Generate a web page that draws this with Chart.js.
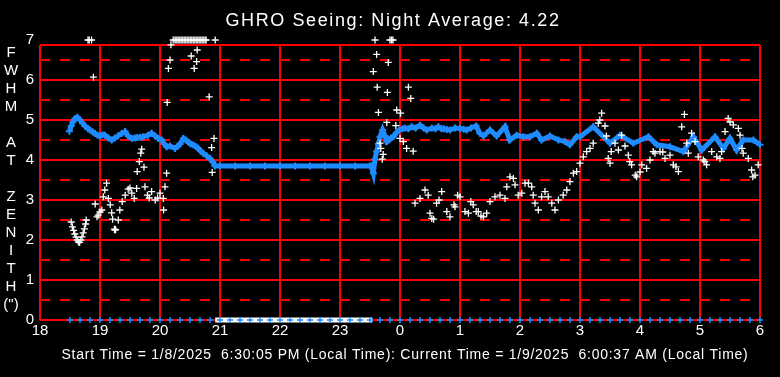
<!DOCTYPE html>
<html>
<head>
<meta charset="utf-8">
<title>GHRO Seeing</title>
<script src="https://cdn.jsdelivr.net/npm/chart.js@4/dist/chart.umd.min.js"></script>
<style>
  html, body { margin: 0; padding: 0; background: #000; }
  canvas { display: block; }
</style>
</head>
<body>
<canvas id="seeing" width="780" height="377"></canvas>
<script>
// Hours after 18:00 local time (0 = 18:00, 12 = 06:00)
const xTickValues = [0, 1, 2, 3, 4, 5, 6, 7, 8, 9, 10, 11, 12];
const yTickValues = [0, 0.5, 1, 1.5, 2, 2.5, 3, 3.5, 4, 4.5, 5, 5.5, 6, 6.5, 6.875, 7];

// individual seeing measurements (white)
const seeingHours = [
  0.52, 0.54, 0.56, 0.58, 0.60, 0.62, 0.64, 0.66, 0.68, 0.70, 0.72, 0.74, 0.76, 0.77,
  0.80, 0.82, 0.86, 0.89, 0.92, 0.95, 0.97, 1.00, 1.03, 1.055, 1.08, 1.11, 1.14, 1.17,
  1.195, 1.21, 1.24, 1.25, 1.26, 1.305, 1.33, 1.37, 1.42, 1.47, 1.50, 1.53, 1.57, 1.61,
  1.62, 1.655, 1.68, 1.695, 1.733, 1.75, 1.79, 1.82, 1.86, 1.92, 1.96, 2.00, 2.055, 2.06,
  2.083, 2.11, 2.12, 2.14, 2.167, 2.183, 2.22, 2.25, 2.27, 2.30, 2.32, 2.35, 2.37, 2.40,
  2.42, 2.45, 2.47, 2.50, 2.52, 2.55, 2.57, 2.60, 2.62, 2.65, 2.67, 2.70, 2.72, 2.75, 2.77,
  2.52, 2.57, 2.61, 2.62, 2.82, 2.86, 2.87, 2.90, 2.92,
  5.555, 5.583, 5.61, 5.62, 5.64, 5.667, 5.68, 5.705, 5.72, 5.78, 5.79, 5.805, 5.833, 5.86,
  5.883, 5.93, 5.945, 6.00, 6.01, 6.055, 6.11, 6.14, 6.18, 6.22,
  6.25, 6.333, 6.417, 6.47, 6.50, 6.53, 6.56, 6.61, 6.65, 6.695, 6.78, 6.833, 6.90, 6.917,
  6.96, 7.00, 7.083, 7.14, 7.18, 7.22, 7.27, 7.305, 7.35, 7.39, 7.445, 7.50, 7.583, 7.667,
  7.75, 7.78, 7.833, 7.89, 7.917, 7.97, 8.03, 8.083, 8.14, 8.195, 8.22, 8.25, 8.305, 8.36,
  8.417, 8.47, 8.53, 8.583, 8.64, 8.72, 8.78, 8.833, 8.89, 8.945, 9.00, 9.055, 9.11, 9.167,
  9.22, 9.305, 9.33, 9.36, 9.417, 9.44, 9.47, 9.50, 9.52, 9.583, 9.64, 9.695, 9.75, 9.805,
  9.83, 9.86, 9.92, 9.945, 10.00, 10.03, 10.11, 10.167, 10.22, 10.25, 10.333, 10.38, 10.417, 10.50,
  10.555, 10.60, 10.64, 10.695, 10.74, 10.78, 10.805, 10.86, 10.917, 10.97, 11.055, 11.08, 11.11, 11.195,
  11.28, 11.333, 11.36, 11.417, 11.47, 11.50, 11.555, 11.64, 11.667, 11.70, 11.72, 11.805, 11.86, 11.88,
  11.917, 11.97
];
const seeingValues = [
  2.45, 2.33, 2.24, 2.15, 2.07, 2.00, 1.95, 1.94, 2.00, 2.08, 2.18, 2.28, 2.40, 2.50,
  7, 7, 7, 6.07, 2.90, 2.58, 2.62, 2.70, 2.75, 3.08, 3.25, 3.42, 3.04, 2.88,
  2.68, 2.52, 2.27, 2.25, 2.26, 2.50, 2.75, 2.96, 3.12, 3.27, 3.30, 3.17, 3.04, 3.29,
  3.71, 3.96, 4.17, 4.27, 3.82, 3.33, 3.12, 3.05, 3.21, 3.00, 3.05, 3.17, 3.04, 2.75,
  3.33, 3.67, 5.44, 6.29, 6.50, 6.88, 7, 7, 7, 7, 7, 7, 7, 7,
  7, 7, 7, 7, 7, 7, 7, 7, 7, 7, 7, 7, 7, 7, 7,
  6.60, 6.29, 6.46, 6.75, 5.58, 4.31, 3.69, 4.54, 7,
  6.21, 7, 6.64, 5.82, 5.19, 4.42, 4.29, 4.02, 4.14, 4.94, 5.69, 6.44, 7, 7,
  7, 4.86, 5.25, 4.54, 5.17, 4.46, 4.29, 5.82, 5.54, 4.22,
  2.92, 3.04, 3.25, 3.12, 2.67, 2.54, 2.52, 2.92, 3.00, 3.21, 2.71, 2.58, 2.88, 2.83,
  3.12, 3.08, 2.71, 2.67, 2.96, 2.88, 2.71, 2.71, 2.60, 2.58, 2.67, 2.96, 3.08, 3.12,
  3.04, 3.33, 3.58, 3.54, 3.38, 3.12, 3.17, 3.42, 3.42, 3.33, 3.12, 2.92, 2.75, 3.08,
  3.21, 3.08, 2.92, 2.75, 3.00, 3.12, 3.25, 3.46, 3.67, 3.71, 3.92, 4.08, 4.21, 4.29,
  4.42, 4.92, 5.00, 5.17, 4.85, 4.60, 4.04, 3.92, 4.21, 4.42, 4.25, 4.62, 4.35, 4.12,
  3.96, 3.88, 3.62, 3.58, 3.70, 3.88, 3.79, 4.00, 4.21, 4.17, 4.21, 4.20, 4.04, 4.12,
  3.88, 3.83, 3.71, 4.83, 5.14, 4.42, 4.17, 4.67, 4.46, 4.08, 4.00, 3.96, 3.88, 4.21,
  4.08, 4.04, 4.21, 4.71, 5.04, 4.95, 4.88, 4.79, 4.62, 4.29, 4.17, 4.04, 3.75, 3.58,
  3.62, 3.88
];

// running average (blue)
const averageHours = [
  0.49, 0.52, 0.55, 0.58, 0.62, 0.667, 0.71, 0.75, 0.80, 0.833, 0.88, 0.917, 0.96, 1.00,
  1.04, 1.083, 1.14, 1.195, 1.25, 1.30, 1.36, 1.417, 1.47, 1.53, 1.58, 1.62, 1.67, 1.72,
  1.80, 1.86, 1.92, 1.97, 2.03, 2.07, 2.11, 2.167, 2.25, 2.30, 2.333, 2.39, 2.43, 2.47,
  2.51, 2.555, 2.60, 2.63, 2.68, 2.72, 2.78, 2.833, 2.88, 2.917, 3.00, 3.25, 3.50, 3.75,
  4.00, 4.25, 4.50, 4.75, 5.00, 5.25, 5.50, 5.52, 5.555, 5.583, 5.61, 5.64, 5.667, 5.71,
  5.75, 5.78, 5.817, 5.85, 5.89, 5.94, 5.99, 6.04, 6.083, 6.14, 6.195, 6.26, 6.333, 6.39,
  6.445, 6.53, 6.59, 6.64, 6.69, 6.73, 6.78, 6.833, 6.917, 7.00, 7.06, 7.11, 7.183, 7.267,
  7.33, 7.39, 7.50, 7.61, 7.75, 7.83, 7.945, 8.055, 8.167, 8.28, 8.36, 8.50, 8.64, 8.75,
  8.83, 8.945, 9.00, 9.22, 9.50, 9.667, 9.89, 10.14, 10.28, 10.50, 10.72, 10.89, 11.03, 11.25,
  11.39, 11.50, 11.61, 11.72, 11.89, 12.00
];
const averageValues = [
  4.72, 4.85, 4.95, 5.03, 5.07, 5.00, 4.92, 4.85, 4.78, 4.75, 4.70, 4.66, 4.62, 4.60,
  4.63, 4.62, 4.55, 4.50, 4.55, 4.60, 4.66, 4.71, 4.60, 4.54, 4.55, 4.56, 4.57, 4.58,
  4.62, 4.67, 4.60, 4.54, 4.50, 4.40, 4.33, 4.35, 4.29, 4.35, 4.40, 4.54, 4.50, 4.45,
  4.40, 4.38, 4.33, 4.30, 4.22, 4.17, 4.10, 4.04, 3.95, 3.85, 3.85, 3.85, 3.85, 3.85,
  3.85, 3.85, 3.85, 3.85, 3.85, 3.85, 3.85, 3.85, 3.67, 4.02, 4.21, 4.40, 4.58, 4.75,
  4.60, 4.46, 4.50, 4.55, 4.58, 4.68, 4.75, 4.78, 4.80, 4.78, 4.83, 4.80, 4.87, 4.80,
  4.75, 4.80, 4.78, 4.83, 4.78, 4.78, 4.76, 4.75, 4.80, 4.79, 4.77, 4.75, 4.80, 4.85,
  4.67, 4.60, 4.75, 4.60, 4.83, 4.50, 4.62, 4.58, 4.58, 4.67, 4.50, 4.60, 4.50, 4.46,
  4.38, 4.58, 4.58, 4.83, 4.42, 4.62, 4.42, 4.58, 4.38, 4.33, 4.21, 4.58, 4.25, 4.58,
  4.29, 4.54, 4.25, 4.50, 4.50, 4.38
];

// sample markers along the bottom (every 10 minutes from 18:30 to 06:00)
const sampleStart = 0.5;
const sampleEnd = 12;
const sampleStep = 1 / 6;
// period with no seeing data (white band on the axis)
const gapHours = [2.92, 5.54];
const gapValues = [0, 0];

const sampleHours = [];
for (let h = sampleStart; h <= sampleEnd + 1e-6; h += sampleStep) sampleHours.push(h);

const FONT = '"Liberation Sans", Arial, sans-serif';
const RED = '#ff0000';
const BLUE = '#1e8cff';

const yLetters = ['F', 'W', 'H', 'M', '', 'A', 'T', '', 'Z', 'E', 'N', 'I', 'T', 'H', '(")'];

const textPlugin = {
    id: 'texts',
    beforeDraw(chart) {
        const c = chart.ctx;
        c.save();
        c.fillStyle = '#000';
        c.fillRect(0, 0, chart.width, chart.height);
        c.restore();
    },
    afterDraw(chart) {
        const c = chart.ctx;
        c.save();
        c.fillStyle = '#fff';
        c.textAlign = 'center';
        c.textBaseline = 'middle';

        // title
        c.font = '18px ' + FONT;
        c.letterSpacing = '1.6px';
        c.fillText('GHRO Seeing: Night Average: 4.22', 393, 21);

        // footer
        c.font = '14px ' + FONT;
        c.letterSpacing = '0.75px';
        c.fillText('Start Time = 1/8/2025  6:30:05 PM (Local Time): Current Time = 1/9/2025  6:00:37 AM (Local Time)', 405, 355);

        // vertical axis label, one letter per line
        c.font = '15px ' + FONT;
        c.letterSpacing = '0px';
        yLetters.forEach((ch, i) => {
            if (ch) c.fillText(ch, 11, 53 + i * 18);
        });
        c.restore();
    }
};

const zeroPoints = sampleHours.map(h => ({ x: h, y: 0 }));
const gapPoints = gapHours.map((h, i) => ({ x: h, y: gapValues[i] }));
const seeingPoints = seeingHours.map((h, i) => ({ x: h, y: seeingValues[i] }));
const averagePoints = averageHours.map((h, i) => ({ x: h, y: averageValues[i] }));

new Chart(document.getElementById('seeing'), {
    type: 'scatter',
    data: {
        datasets: [
            {
                label: 'samples',
                data: zeroPoints,
                pointStyle: 'cross',
                pointRadius: 3,
                borderColor: BLUE,
                borderWidth: 1.5,
                clip: false
            },
            {
                label: 'seeing',
                data: seeingPoints,
                pointStyle: 'cross',
                pointRadius: 3.5,
                borderColor: '#fff',
                borderWidth: 1.3,
                clip: false
            },
            {
                label: 'average',
                data: averagePoints,
                showLine: true,
                pointStyle: 'cross',
                pointRadius: 3.5,
                pointBorderWidth: 2,
                borderColor: BLUE,
                borderWidth: 5,
                clip: false
            },
            {
                label: 'no data',
                data: gapPoints,
                showLine: true,
                pointRadius: 0,
                borderColor: '#fff',
                borderWidth: 5,
                clip: false
            }
        ]
    },
    options: {
        responsive: false,
        animation: false,
        layout: { padding: { top: 45, right: 20, left: 0, bottom: 0 } },
        plugins: {
            legend: { display: false },
            tooltip: { enabled: false }
        },
        scales: {
            x: {
                type: 'linear',
                min: 0,
                max: 12,
                afterFit: s => { s.height = 57; },
                afterBuildTicks: s => { s.ticks = xTickValues.map(v => ({ value: v })); },
                ticks: {
                    color: '#fff',
                    font: { family: FONT, size: 15 },
                    padding: 2,
                    maxRotation: 0,
                    autoSkip: false,
                    callback: v => (v + 18) % 24
                },
                grid: { color: RED, lineWidth: 2, drawTicks: false },
                border: { display: false }
            },
            y: {
                min: 0,
                max: 6.875,
                afterFit: s => { s.width = 40; },
                afterBuildTicks: s => { s.ticks = yTickValues.map(v => ({ value: v })); },
                ticks: {
                    color: '#fff',
                    font: { family: FONT, size: 15 },
                    padding: 6,
                    autoSkip: false,
                    callback: v => Number.isInteger(v) ? v : ''
                },
                grid: {
                    color: c => (c.tick && c.tick.value === 7) ? 'rgba(0,0,0,0)' : RED,
                    lineWidth: 2,
                    drawTicks: false
                },
                border: {
                    display: false,
                    dash: c => (c.tick && c.tick.value % 1 === 0.5) ? [10, 10] : []
                }
            }
        }
    },
    plugins: [textPlugin]
});
</script>
</body>
</html>
